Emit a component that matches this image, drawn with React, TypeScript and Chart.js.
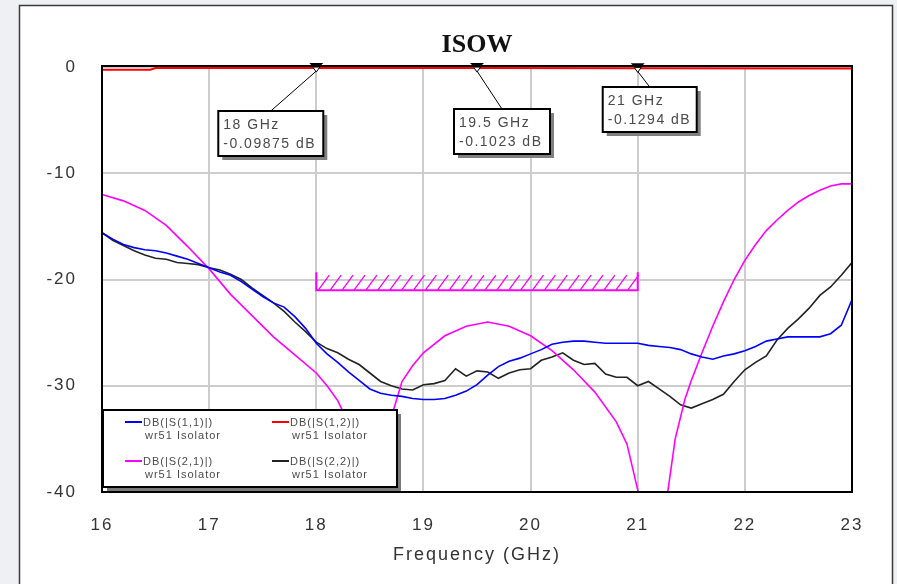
import { useEffect, useRef } from "react";
import { Chart, registerables } from "chart.js";

Chart.register(...registerables);

const W = 897;
const H = 584;

// Frequency grid (GHz) for S11 / S22 traces
const freq = [
  16.0, 16.1, 16.2, 16.3, 16.4, 16.5, 16.6, 16.7, 16.8, 16.9,
  17.0, 17.1, 17.2, 17.3, 17.4, 17.5, 17.6, 17.7, 17.8, 17.9,
  18.0, 18.1, 18.2, 18.3, 18.4, 18.5, 18.6, 18.7, 18.8, 18.9,
  19.0, 19.1, 19.2, 19.3, 19.4, 19.5, 19.6, 19.7, 19.8, 19.9,
  20.0, 20.1, 20.2, 20.3, 20.4, 20.5, 20.6, 20.7, 20.8, 20.9,
  21.0, 21.1, 21.2, 21.3, 21.4, 21.5, 21.6, 21.7, 21.8, 21.9,
  22.0, 22.1, 22.2, 22.3, 22.4, 22.5, 22.6, 22.7, 22.8, 22.9,
  23.0,
];

const s11 = [
  -15.6, -16.2, -16.7, -17.0, -17.2, -17.3, -17.5, -17.8, -18.1, -18.5,
  -18.9, -19.3, -19.6, -20.2, -20.9, -21.6, -22.2, -22.6, -23.5, -24.6,
  -26.0, -27.0, -27.8, -28.7, -29.5, -30.3, -30.7, -30.9, -31.0, -31.2,
  -31.3, -31.3, -31.2, -30.9, -30.5, -29.9, -29.0, -28.2, -27.7, -27.4,
  -27.0, -26.6, -26.1, -25.9, -25.8, -25.8, -25.9, -26.0, -26.0, -26.0,
  -26.0, -26.2, -26.3, -26.4, -26.6, -27.0, -27.3, -27.5, -27.2, -27.0,
  -26.7, -26.3, -25.8, -25.6, -25.4, -25.4, -25.4, -25.4, -25.1, -24.3,
  -21.9,
];

const s22 = [
  -15.6, -16.3, -16.8, -17.3, -17.7, -18.0, -18.1, -18.4, -18.5, -18.6,
  -18.9, -19.1, -19.5, -20.0, -20.8, -21.5, -22.2, -23.0, -24.0, -24.9,
  -25.9, -26.5, -26.9, -27.5, -28.0, -28.8, -29.6, -30.0, -30.3, -30.4,
  -29.9, -29.8, -29.5, -28.4, -29.1, -28.6, -28.7, -29.3, -28.8, -28.5,
  -28.4, -27.6, -27.3, -26.9, -27.6, -28.0, -27.9, -28.9, -29.2, -29.2,
  -30.0, -29.6, -30.3, -31.0, -31.8, -32.1, -31.7, -31.3, -30.8, -29.6,
  -28.5, -27.8, -27.2, -25.7, -24.6, -23.7, -22.7, -21.5, -20.7, -19.6,
  -18.4,
];

// S21 trace (own frequency points, denser near the nulls)
const freqS21 = [
  16.0, 16.2, 16.4, 16.6, 16.8, 17.0, 17.2, 17.4, 17.6, 17.8,
  18.0, 18.1, 18.2, 18.3, 18.4, 18.47, 18.55, 18.62, 18.72, 18.8,
  18.9, 19.0, 19.2, 19.4, 19.6, 19.8, 20.0, 20.2, 20.4, 20.6,
  20.8, 20.9, 21.0, 21.07, 21.14, 21.21, 21.28, 21.35, 21.44, 21.5,
  21.6, 21.7, 21.8, 21.9, 22.0, 22.1, 22.2, 22.3, 22.4, 22.5,
  22.6, 22.7, 22.8, 22.9, 23.0,
];

const s21 = [
  -12.0, -12.6, -13.5, -14.9, -16.9, -19.0, -21.4, -23.4, -25.4, -27.1,
  -28.8, -30.0, -31.4, -33.5, -36.5, -50.0, -42.0, -36.0, -32.3, -29.6,
  -28.1, -26.9, -25.3, -24.4, -24.0, -24.4, -25.3, -26.7, -28.5, -30.6,
  -33.4, -35.5, -39.8, -46.0, -55.0, -46.0, -40.0, -35.0, -31.3, -29.5,
  -26.9, -24.4, -22.1, -20.0, -18.2, -16.7, -15.4, -14.4, -13.5, -12.7,
  -12.1, -11.6, -11.2, -11.0, -11.0,
];

// S12 trace
const freqS12 = [16.0, 16.45, 16.5, 18.0, 19.5, 21.0, 23.0];
const s12 = [-0.25, -0.25, -0.1, -0.09875, -0.1023, -0.1294, -0.14];

// Markers on S12
const markerFreq = [18, 19.5, 21];
const markerValue = [-0.09875, -0.1023, -0.1294];
const markerText = [
  ["18 GHz", "-0.09875 dB"],
  ["19.5 GHz", "-0.1023 dB"],
  ["21 GHz", "-0.1294 dB"],
];

// Spec limit line
const limitFreq = [18, 21];
const limitValue = -21;

const seriesNames = ["DB(|S(1,1)|)", "DB(|S(1,2)|)", "DB(|S(2,1)|)", "DB(|S(2,2)|)"];
const seriesSub = "wr51 Isolator";
const seriesColors = ["#0000ff", "#ff0000", "#ff00ff", "#222222"];

const xTicks = [16, 17, 18, 19, 20, 21, 22, 23];
const yTicks = [0, -10, -20, -30, -40];

const SANS = '"Liberation Sans", Arial, sans-serif';

function pts(xs: number[], ys: number[]) {
  return xs.map((x, i) => ({ x, y: ys[i] }));
}

const decorPlugin = {
  id: "decor",
  beforeDraw(chart: any) {
    const ctx = chart.ctx as CanvasRenderingContext2D;
    ctx.save();
    ctx.fillStyle = "#eef0f3";
    ctx.fillRect(0, 0, W, H);
    ctx.fillStyle = "#ffffff";
    ctx.fillRect(19, 5, 874, 620);
    ctx.strokeStyle = "#3a3a3a";
    ctx.lineWidth = 1.5;
    ctx.strokeRect(19.5, 5.5, 873, 620);
    ctx.restore();
    (ctx as any).letterSpacing = "2px";
  },
  afterDraw(chart: any) {
    const ctx = chart.ctx as CanvasRenderingContext2D;
    const xs = chart.scales.x;
    const ys = chart.scales.y;
    const a = chart.chartArea;
    ctx.save();
    (ctx as any).letterSpacing = "0px";

    // plot border
    ctx.strokeStyle = "#000";
    ctx.lineWidth = 2;
    ctx.strokeRect(a.left, a.top - 1, a.right - a.left, a.bottom - a.top + 1);

    // title
    ctx.fillStyle = "#111";
    ctx.font = 'bold 26px "Liberation Serif", "Times New Roman", serif';
    ctx.textAlign = "center";
    ctx.textBaseline = "alphabetic";
    ctx.fillText("ISOW", (a.left + a.right) / 2, 52);

    // limit line with hatch
    const lx0 = xs.getPixelForValue(limitFreq[0]);
    const lx1 = xs.getPixelForValue(limitFreq[1]);
    const ly = ys.getPixelForValue(limitValue);
    ctx.strokeStyle = "#ff00ff";
    ctx.lineWidth = 2;
    ctx.beginPath();
    ctx.moveTo(lx0, ly - 18);
    ctx.lineTo(lx0, ly);
    ctx.lineTo(lx1, ly);
    ctx.lineTo(lx1, ly - 18);
    ctx.stroke();
    ctx.lineWidth = 1.3;
    ctx.beginPath();
    for (let hx = lx0 + 2; hx + 11 <= lx1 + 1; hx += 11.9) {
      ctx.moveTo(hx, ly);
      ctx.lineTo(hx + 11, ly - 15);
    }
    ctx.stroke();

    // markers
    const boxes = [
      { dx: -98, top: 111, w: 105 },
      { dx: -23, top: 109, w: 96 },
      { dx: -35, top: 87, w: 94 },
    ];
    markerFreq.forEach((f, i) => {
      const px = xs.getPixelForValue(f);
      const py = ys.getPixelForValue(markerValue[i]);
      const b = boxes[i];
      const bx = px + b.dx;
      const by = b.top;
      const bh = 45;
      // leader
      ctx.strokeStyle = "#000";
      ctx.lineWidth = 1;
      ctx.beginPath();
      ctx.moveTo(px, py + 3);
      ctx.lineTo(bx + b.w / 2, by);
      ctx.stroke();
      // marker triangle
      ctx.fillStyle = "#000";
      ctx.beginPath();
      ctx.moveTo(px - 7, py - 5);
      ctx.lineTo(px + 7, py - 5);
      ctx.lineTo(px, py + 2);
      ctx.closePath();
      ctx.fill();
      ctx.fillStyle = "#fff";
      ctx.strokeStyle = "#000";
      ctx.lineWidth = 1;
      ctx.beginPath();
      ctx.moveTo(px - 3.5, py - 1);
      ctx.lineTo(px + 3.5, py - 1);
      ctx.lineTo(px, py + 4);
      ctx.closePath();
      ctx.fill();
      ctx.stroke();
      // box
      ctx.fillStyle = "#808080";
      ctx.fillRect(bx + 4, by + 4, b.w, bh);
      ctx.fillStyle = "#fff";
      ctx.fillRect(bx, by, b.w, bh);
      ctx.strokeStyle = "#000";
      ctx.lineWidth = 2;
      ctx.strokeRect(bx, by, b.w, bh);
      ctx.fillStyle = "#4a4a4a";
      ctx.font = "14px " + SANS;
      ctx.textAlign = "left";
      ctx.textBaseline = "alphabetic";
      (ctx as any).letterSpacing = "1.5px";
      ctx.fillText(markerText[i][0], bx + 5, by + 18);
      ctx.fillText(markerText[i][1], bx + 5, by + 37);
      (ctx as any).letterSpacing = "0px";
    });

    // legend
    const gx = 103, gy = 410, gw = 294, gh = 77;
    ctx.fillStyle = "#7a7a7a";
    ctx.fillRect(gx + 4, gy + 4, gw, gh);
    ctx.fillStyle = "#fff";
    ctx.fillRect(gx, gy, gw, gh);
    ctx.strokeStyle = "#000";
    ctx.lineWidth = 2;
    ctx.strokeRect(gx, gy, gw, gh);
    const cols = [gx + 22, gx + 169];
    const rows = [gy + 12, gy + 51];
    ctx.font = "11px " + SANS;
    ctx.textAlign = "left";
    ctx.textBaseline = "alphabetic";
    seriesNames.forEach((name, i) => {
      const cx = cols[i % 2];
      const cy = rows[Math.floor(i / 2)];
      ctx.strokeStyle = seriesColors[i];
      ctx.lineWidth = 2;
      ctx.beginPath();
      ctx.moveTo(cx, cy);
      ctx.lineTo(cx + 17, cy);
      ctx.stroke();
      ctx.fillStyle = "#4a4a4a";
      (ctx as any).letterSpacing = "1px";
      ctx.fillText(name, cx + 18, cy + 4);
      ctx.fillText(seriesSub, cx + 20, cy + 17);
      (ctx as any).letterSpacing = "0px";
    });

    ctx.restore();
  },
};

export default function App() {
  const ref = useRef<HTMLCanvasElement | null>(null);

  useEffect(() => {
    if (!ref.current) return;
    const line = (label: string, data: any, color: string, width: number) => ({
      label,
      data,
      borderColor: color,
      backgroundColor: color,
      borderWidth: width,
      pointRadius: 0,
      tension: 0,
      fill: false,
    });
    const chart = new Chart(ref.current, {
      type: "line",
      data: {
        datasets: [
          line(seriesNames[1], pts(freqS12, s12), "#ff0000", 2),
          line(seriesNames[0], pts(freq, s11), "#0000ff", 1.6),
          line(seriesNames[2], pts(freqS21, s21), "#ff00ff", 1.6),
          line(seriesNames[3], pts(freq, s22), "#222222", 1.6),
        ],
      },
      options: {
        responsive: false,
        animation: false,
        events: [],
        layout: { padding: { top: 67, right: 45, left: 0, bottom: 0 } },
        plugins: {
          legend: { display: false },
          title: { display: false },
          tooltip: { enabled: false },
        },
        scales: {
          x: {
            type: "linear",
            min: 16,
            max: 23,
            afterBuildTicks: (s: any) => {
              s.ticks = xTicks.map((v) => ({ value: v }));
            },
            afterFit: (s: any) => {
              s.height = 92;
            },
            ticks: {
              color: "#333",
              font: { family: SANS, size: 17 },
              padding: 23,
              maxRotation: 0,
              autoSkip: false,
            },
            grid: { color: "#cdcdcd", lineWidth: 2, drawTicks: false },
            border: { display: false },
            title: {
              display: true,
              text: "Frequency (GHz)",
              color: "#333",
              font: { family: SANS, size: 18 },
              padding: { top: 0, bottom: 18 },
            },
          },
          y: {
            type: "linear",
            min: -40,
            max: 0,
            afterBuildTicks: (s: any) => {
              s.ticks = yTicks.map((v) => ({ value: v }));
            },
            afterFit: (s: any) => {
              s.width = 102;
            },
            ticks: {
              color: "#333",
              font: { family: SANS, size: 17 },
              padding: 25,
              autoSkip: false,
            },
            grid: { color: "#cdcdcd", lineWidth: 2, drawTicks: false },
            border: { display: false },
          },
        },
      },
      plugins: [decorPlugin],
    } as any);
    return () => chart.destroy();
  }, []);

  return (
    <div style={{ position: "fixed", left: 0, top: 0, width: W, height: H, background: "#eef0f3" }}>
      <canvas ref={ref} width={W} height={H} style={{ display: "block", width: W, height: H }} />
    </div>
  );
}
